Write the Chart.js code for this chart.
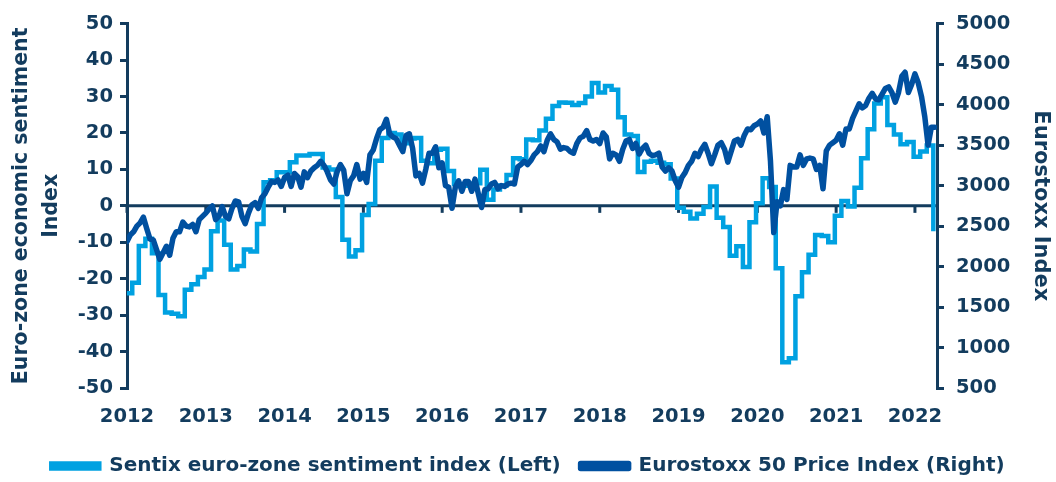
<!DOCTYPE html>
<html><head><meta charset="utf-8">
<script src="https://cdn.jsdelivr.net/npm/chart.js@4/dist/chart.umd.min.js"></script>
<style>html,body{margin:0;padding:0;background:#fff;}#wrap{width:1056px;height:482px;position:relative;}</style>
</head><body><div id="wrap"><canvas id="c" width="1056" height="482" style="width:1056px;height:482px;"></canvas></div>
<script>
// Sentix euro-zone sentiment index, monthly, Dec 2011 .. Mar 2022
const sentixFirstMonth = [2011, 12];
const sentixValues = [
  -24,
  -21.1, -11, -9, -13, -24.5, -29.3, -29.6, -30.3, -23, -21.5, -19.5, -17.5,
  -7, -4, -10.7, -17.5, -16.5, -12, -12.5, -5, 6.5, 7, 9.2, 9.2,
  12, 13.8, 13.8, 14.2, 14.2, 10.5, 10, 2.4, -9.3, -13.9, -12.2, -2.5,
  0.5, 12.4, 18.6, 20, 19.6, 17.2, 18.5, 18.6, 12.4, 11.7, 15.4, 15.7,
  9.6, 6.0, 5.5, 5.7, 6.2, 9.9, 1.7, 4.5, 5.6, 8.5, 13.1, 12.8,
  18.2, 18, 20.7, 23.9, 27.4, 28.4, 28.3, 27.7, 28.2, 30, 33.7, 31.1,
  32.9, 31.9, 24.3, 19.6, 19.2, 9.3, 12.1, 12.4, 11.8, 11.4, 7.5, -0.5,
  -1.6, -3.5, -2.2, -0.3, 5.3, -3.3, -5.8, -13.7, -11.1, -16.8, -4.5, 0.7,
  7.6, 5.2, -17.1, -42.9, -41.8, -24.8, -18.2, -13.4, -8.0, -8.3, -10.0, -2.7,
  1.3, -0.2, 5.0, 13.1, 21.0, 28.1, 29.8, 22.2, 19.6, 16.9, 17.5, 13.5,
  14.9, 16.6, -7.0
];
// Eurostoxx 50 price index, twice a month (1st and 15th), Jan 2012 .. Apr 2022
const stoxxFirstMonth = [2012, 1];
const stoxxValues = [
  2310, 2390, 2430, 2500, 2540, 2610, 2470, 2340, 2330, 2210, 2090, 2170, 2250, 2140, 2350, 2430, 2430, 2550, 2500, 2490, 2520, 2430, 2580, 2620,
  2660, 2710, 2750, 2580, 2620, 2740, 2620, 2590, 2720, 2810, 2800, 2620, 2530, 2660, 2760, 2790, 2720, 2850, 2900, 2980, 3050, 3040, 3070, 2990,
  3100, 3130, 2990, 3150, 3110, 2980, 3170, 3100, 3180, 3220, 3250, 3300, 3250, 3170, 3070, 3020, 3170, 3260, 3190, 2900, 3060, 3120, 3260, 3080,
  3150, 3040, 3380, 3440, 3580, 3690, 3720, 3820, 3640, 3600, 3580, 3500, 3420, 3620, 3640, 3460, 3120, 3150, 3030, 3200, 3400, 3400, 3480, 3220,
  3280, 3000, 2980, 2720, 2980, 3060, 2930, 3050, 3050, 2930, 3080, 2900, 2730, 2950, 2960, 3020, 3040, 2960, 3000, 2990, 3020, 3030, 3020, 3230,
  3260, 3300, 3260, 3310, 3380, 3420, 3490, 3420, 3560, 3640, 3570, 3540, 3450, 3470, 3460, 3420, 3400, 3520, 3590, 3610, 3680, 3570, 3550, 3570,
  3520, 3650, 3600, 3330, 3400, 3380, 3300, 3450, 3550, 3570, 3460, 3520, 3390, 3460, 3500, 3400, 3370, 3380, 3400, 3230, 3180, 3220, 3180, 3060,
  2980, 3100, 3160, 3250, 3300, 3400, 3360, 3450, 3510, 3400, 3270, 3380, 3500, 3530, 3450, 3290, 3420, 3550, 3570, 3500, 3620, 3700, 3690, 3740,
  3760, 3800, 3650, 3850, 3300, 2420, 2800, 2750, 2950, 2830, 3250, 3230, 3230, 3380, 3250, 3330, 3340, 3330, 3200, 3250, 2960, 3430, 3500, 3530,
  3560, 3640, 3500, 3700, 3700, 3830, 3920, 4010, 3960, 3990, 4080, 4140, 4070, 4060, 4130, 4200, 4220, 4150, 4030, 4150, 4350, 4400, 4150, 4250,
  4380, 4270, 4100, 3850, 3500, 3720, 3720
];
const yearTicks = [2012, 2013, 2014, 2015, 2016, 2017, 2018, 2019, 2020, 2021, 2022];
const leftTicks = [-50, -40, -30, -20, -10, 0, 10, 20, 30, 40, 50];
const rightTicks = [500, 1000, 1500, 2000, 2500, 3000, 3500, 4000, 4500, 5000];
const seriesNames = ['Sentix euro-zone sentiment index (Left)', 'Eurostoxx 50 Price Index (Right)'];
const axisTitles = { left: ['Euro-zone economic sentiment', 'Index'], right: 'Eurostoxx Index' };

const NAVY = '#133c5e';
const LIGHT = '#00a1e1';
const DARK = '#0050a0';
const FONT = 'DejaVu Sans';

// monthly survey plotted a little after month start
const sentixPoints = sentixValues.map((v, k) => ({
  x: sentixFirstMonth[0] + (sentixFirstMonth[1] - 1 + k + 0.8) / 12, y: v
}));
const stoxxPoints = stoxxValues.map((v, i) => ({
  x: stoxxFirstMonth[0] + (stoxxFirstMonth[1] - 1) / 12 + i / 24, y: v
}));

const zeroAxis = {
  id: 'zeroAxis',
  beforeDatasetsDraw(chart) {
    const { ctx, chartArea, scales } = chart;
    const y0 = scales.y.getPixelForValue(0);
    ctx.save();
    ctx.strokeStyle = NAVY;
    ctx.lineWidth = 3;
    ctx.beginPath();
    ctx.moveTo(chartArea.left, y0);
    ctx.lineTo(chartArea.right, y0);
    ctx.stroke();
    yearTicks.forEach(v => {
      const x = scales.x.getPixelForValue(v);
      ctx.beginPath();
      ctx.moveTo(x, y0);
      ctx.lineTo(x, y0 + 7);
      ctx.stroke();
    });
    ctx.restore();
  }
};

const tickFont = { family: FONT, size: 19.5, weight: 'bold' };

new Chart(document.getElementById('c'), {
  type: 'line',
  data: {
    datasets: [
      { label: seriesNames[0], data: sentixPoints, yAxisID: 'y', stepped: true,
        borderColor: LIGHT, backgroundColor: LIGHT, borderWidth: 4.5, pointRadius: 0,
        fill: false, order: 1, borderJoinStyle: 'miter' },
      { label: seriesNames[1], data: stoxxPoints, yAxisID: 'y1', tension: 0,
        borderColor: DARK, backgroundColor: DARK, borderWidth: 5.5, pointRadius: 0,
        fill: false, order: 0, borderJoinStyle: 'round', borderCapStyle: 'round' }
    ]
  },
  options: {
    responsive: false,
    animation: false,
    devicePixelRatio: 1,
    layout: { padding: { top: 8, left: 0, right: 0, bottom: -4 } },
    plugins: {
      tooltip: { enabled: false },
      legend: {
        position: 'bottom',
        labels: {
          sort: (a, b) => a.datasetIndex - b.datasetIndex,
          boxWidth: 48, boxHeight: 5, padding: 20,
          color: NAVY, font: { family: FONT, size: 20, weight: 'bold' }
        }
      }
    },
    scales: {
      x: {
        type: 'linear', min: 2012, max: 2022.28,
        afterBuildTicks: s => { s.ticks = yearTicks.map(v => ({ value: v })); },
        ticks: { callback: v => String(v), color: NAVY, font: tickFont, padding: 17, maxRotation: 0, autoSkip: false },
        grid: { display: false, drawTicks: false },
        border: { display: false },
        afterFit: s => { s.height = 48; }
      },
      y: {
        position: 'left', min: -50, max: 50,
        afterBuildTicks: s => { s.ticks = leftTicks.map(v => ({ value: v })); },
        ticks: { callback: v => String(v), color: NAVY, font: tickFont, padding: 7 },
        grid: { drawOnChartArea: false, drawTicks: true, tickLength: 7, tickWidth: 3, tickColor: NAVY, color: NAVY, lineWidth: 3 },
        border: { display: true, color: NAVY, width: 3 },
        title: { display: true, text: axisTitles.left, color: NAVY, font: { family: FONT, size: 20.5, weight: 'bold', lineHeight: 1.45 }, padding: { top: 7, bottom: 0 } },
        afterFit: s => { s.width = 127; }
      },
      y1: {
        position: 'right', min: 500, max: 5000,
        afterBuildTicks: s => { s.ticks = rightTicks.map(v => ({ value: v })); },
        ticks: { callback: v => String(v), color: NAVY, font: tickFont, padding: 12 },
        grid: { drawOnChartArea: false, drawTicks: true, tickLength: 7, tickWidth: 3, tickColor: NAVY, color: NAVY, lineWidth: 3 },
        border: { display: true, color: NAVY, width: 3 },
        title: { display: true, text: axisTitles.right, color: NAVY, font: { family: FONT, size: 21, weight: 'bold' }, padding: { top: 3, bottom: 0 } },
        afterFit: s => { s.width = 119; }
      }
    }
  },
  plugins: [zeroAxis]
});
</script>
</body></html>
